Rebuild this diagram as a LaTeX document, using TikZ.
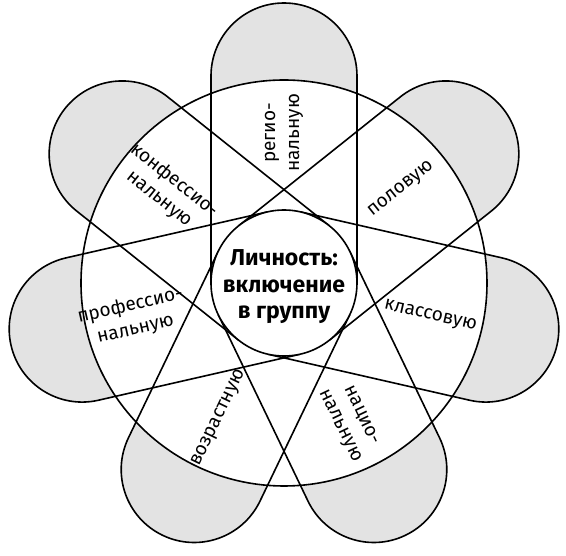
\documentclass[tikz,border=0pt]{standalone}
\usepackage{fontspec}
\setmainfont{Fira Sans}
\tikzset{
  petalfill/.style={fill=black!11},
  petalline/.style={line width=1.6pt},
  lab/.style={font=\fontsize{19}{24}\selectfont, align=center, inner sep=0pt}
}
\begin{document}
\begin{tikzpicture}[x=1pt,y=1pt]
            \useasboundingbox (-284,-273) rectangle (282,283);
            % grey caps
            \fill[petalfill] (180:73) -- ++(90:207) arc[start angle=180, end angle=0, radius=73] -- (0:73) -- cycle;
            \fill[petalfill] (231.43:73) -- ++(141.43:207) arc[start angle=231.43, end angle=51.43, radius=73] -- (51.43:73) -- cycle;
            \fill[petalfill] (282.86:73) -- ++(192.86:207) arc[start angle=282.86, end angle=102.86, radius=73] -- (102.86:73) -- cycle;
            \fill[petalfill] (334.29:73) -- ++(244.29:207) arc[start angle=334.29, end angle=154.29, radius=73] -- (154.29:73) -- cycle;
            \fill[petalfill] (25.71:73) -- ++(-64.29:207) arc[start angle=25.71, end angle=-154.29, radius=73] -- (-154.29:73) -- cycle;
            \fill[petalfill] (77.14:73) -- ++(-12.86:207) arc[start angle=77.14, end angle=-102.86, radius=73] -- (-102.86:73) -- cycle;
            \fill[petalfill] (128.57:73) -- ++(38.57:207) arc[start angle=128.57, end angle=-51.43, radius=73] -- (-51.43:73) -- cycle;
            \fill[white] (0,0) circle (203);
            % petals
            \draw[petalline] (180:73) -- ++(90:207) arc[start angle=180, end angle=0, radius=73] -- (0:73);
            \draw[petalline] (231.43:73) -- ++(141.43:207) arc[start angle=231.43, end angle=51.43, radius=73] -- (51.43:73);
            \draw[petalline] (282.86:73) -- ++(192.86:207) arc[start angle=282.86, end angle=102.86, radius=73] -- (102.86:73);
            \draw[petalline] (334.29:73) -- ++(244.29:207) arc[start angle=334.29, end angle=154.29, radius=73] -- (154.29:73);
            \draw[petalline] (25.71:73) -- ++(-64.29:207) arc[start angle=25.71, end angle=-154.29, radius=73] -- (-154.29:73);
            \draw[petalline] (77.14:73) -- ++(-12.86:207) arc[start angle=77.14, end angle=-102.86, radius=73] -- (-102.86:73);
            \draw[petalline] (128.57:73) -- ++(38.57:207) arc[start angle=128.57, end angle=-51.43, radius=73] -- (-51.43:73);
            \draw[petalline] (0,0) circle (203);
            \draw[petalline, fill=white] (0,0) circle (73);
            % texts
            \node[font=\bfseries\fontsize{23}{26.5}\selectfont, align=center] (lich) at (0,-4) {Личность:\\включение\\в группу};
            \node[lab, rotate=90] (reg) at (90:150) {регио-\\нальную};
            \node[lab, rotate=38.57] (pol) at (38.57:150) {половую};
            \node[lab, rotate=-12.86] (klass) at (-12.86:150) {классовую};
            \node[lab, rotate=-64.29] (nac) at (-64.29:153) {нацио-\\нальную};
            \node[lab, rotate=64.29] (vozr) at (244.29:150) {возрастную};
            \node[lab, rotate=12.86] (prof) at (192.86:155) {профессио-\\нальную};
            \node[lab, rotate=-38.57] (konf) at (141.43:150) {конфессио-\\нальную};
\end{tikzpicture}
\end{document}
